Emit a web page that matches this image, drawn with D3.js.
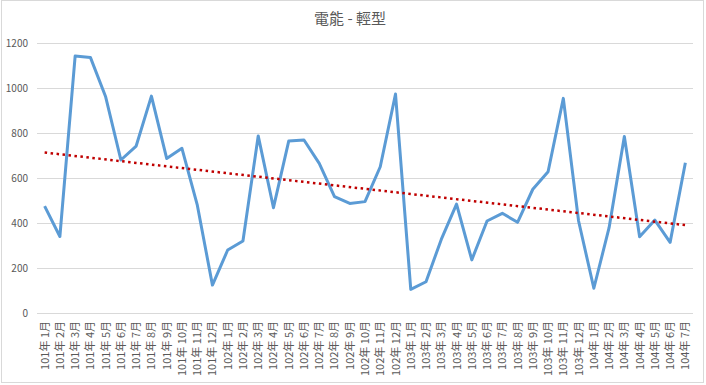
<!DOCTYPE html>
<html>
<head>
<meta charset="utf-8">
<script src="https://cdn.jsdelivr.net/npm/d3@7"></script>
<style>
  body { margin: 0; background: #fff; }
  text { font-family: "Noto Sans CJK TC", "Noto Sans", sans-serif; }
</style>
</head>
<body>
<div id="chart"></div>
<script>
// chart: 電能 - 輕型

const width = 706;
const height = 385;

const years = [101, 102, 103, 104];
const months = [];
years.forEach(y => {
  const last = y === 104 ? 7 : 12;
  for (let m = 1; m <= last; m++) months.push(`${y}年 ${m}月`);
});

const values = [
  475, 340, 1142, 1136, 961, 680, 742, 964, 687, 732, 482, 124,
  280, 320, 787, 468, 764, 769, 665, 517, 487, 495, 650, 973,
  105, 139, 327, 484, 236, 409, 443, 403, 550, 628, 954, 409,
  110, 379, 784, 339, 413, 314, 668
];

const yTicks = [0, 200, 400, 600, 800, 1000, 1200];

const margin = { top: 43, right: 13, bottom: 72, left: 37 };

const svg = d3.select("#chart")
  .append("svg")
  .attr("width", width)
  .attr("height", height);

// outer frame
svg.append("rect")
  .attr("x", 1.5)
  .attr("y", 0.5)
  .attr("width", 702)
  .attr("height", 382)
  .attr("fill", "#fff")
  .attr("stroke", "#d9d9d9");

const x = d3.scaleBand()
  .domain(months)
  .range([margin.left, width - margin.right]);

const y = d3.scaleLinear()
  .domain([0, 1200])
  .range([height - margin.bottom - 0, margin.top]);

// grid lines
svg.selectAll(".grid")
  .data(yTicks)
  .enter()
  .append("line")
  .attr("x1", margin.left)
  .attr("x2", width - margin.right)
  .attr("y1", d => Math.round(y(d)) + 0.5)
  .attr("y2", d => Math.round(y(d)) + 0.5)
  .attr("stroke", "#d9d9d9")
  .attr("stroke-width", 1);

// y labels
svg.selectAll(".ylabel")
  .data(yTicks)
  .enter()
  .append("text")
  .attr("x", 28)
  .attr("y", d => y(d) + 4)
  .attr("text-anchor", "end")
  .attr("font-size", "10px")
  .attr("fill", "#595959")
  .text(d => d);

// x labels
svg.selectAll(".xlabel")
  .data(months)
  .enter()
  .append("text")
  .attr("transform", d => `translate(${x(d) + x.bandwidth() / 2 + 4},${y(0) + 8}) rotate(-90)`)
  .attr("text-anchor", "end")
  .attr("font-size", "11px")
  .attr("fill", "#595959")
  .text(d => d);

// series
const cx = (d, i) => x(months[i]) + x.bandwidth() / 2;
const line = d3.line()
  .x((d, i) => cx(d, i))
  .y(d => y(d));

svg.append("path")
  .datum(values)
  .attr("d", line)
  .attr("fill", "none")
  .attr("stroke", "#5b9bd5")
  .attr("stroke-width", 3)
  .attr("stroke-linejoin", "round");

// linear trendline (least squares)
const n = values.length;
const xs = d3.range(1, n + 1);
const mx = d3.mean(xs);
const my = d3.mean(values);
const slope = d3.sum(xs, (v, i) => (v - mx) * (values[i] - my)) / d3.sum(xs, v => (v - mx) * (v - mx));
const intercept = my - slope * mx;

svg.append("line")
  .attr("x1", cx(null, 0))
  .attr("x2", cx(null, n - 1))
  .attr("y1", y(intercept + slope * 1))
  .attr("y2", y(intercept + slope * n))
  .attr("stroke", "#c00000")
  .attr("stroke-width", 2.5)
  .attr("stroke-dasharray", "2.5,3.5");

// title
svg.append("text")
  .attr("x", 350)
  .attr("y", 24)
  .attr("text-anchor", "middle")
  .attr("font-size", "15px")
  .attr("fill", "#595959")
  .text("電能 - 輕型");
</script>
</body>
</html>
